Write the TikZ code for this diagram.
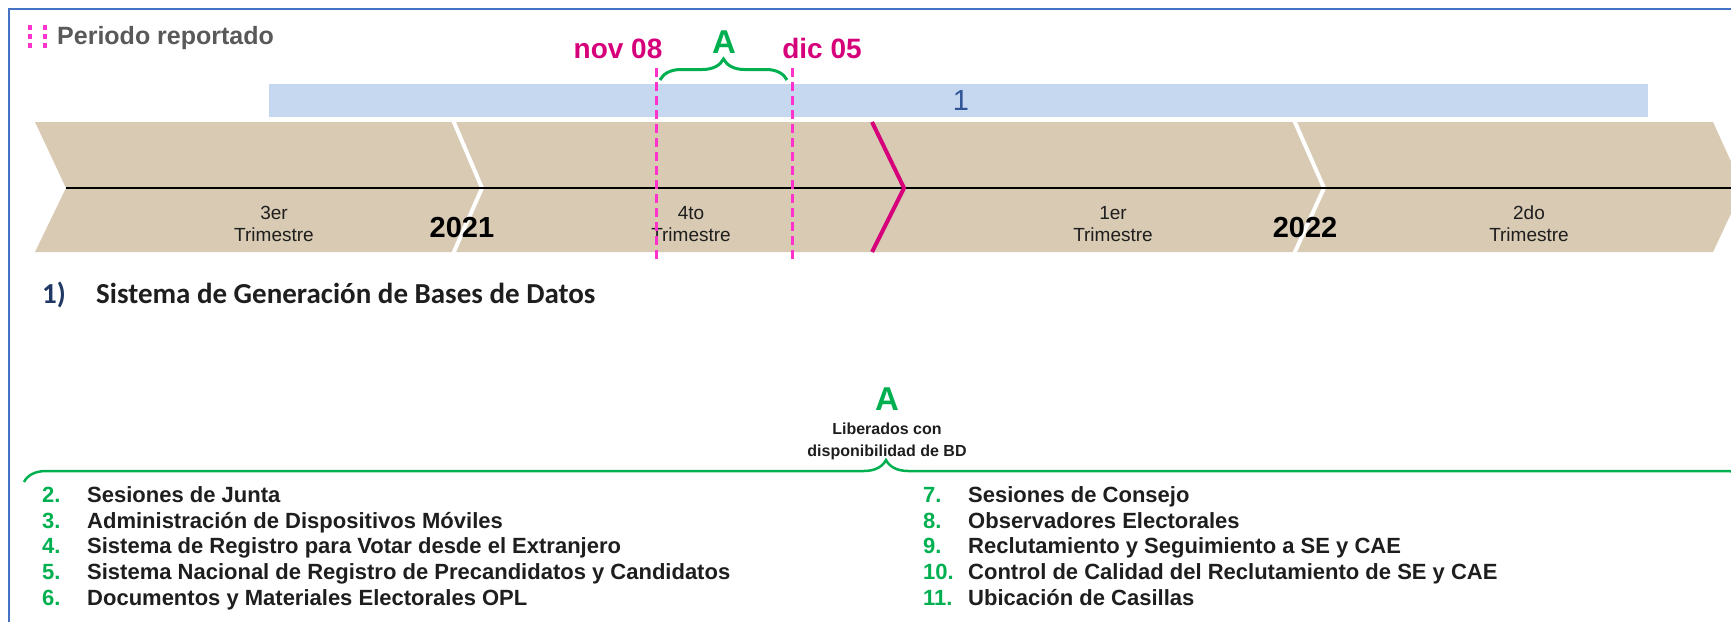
\documentclass[tikz,border=0pt]{standalone}
\usepackage{fontspec}
\setmainfont{Liberation Sans}
\newfontfamily\calibri{Carlito}
\usepackage{tikz}
\usetikzlibrary{
	positioning,   % relative placement
	calc,
	decorations.pathreplacing % braces
}
\definecolor{marco}{RGB}{68,114,196}
\definecolor{rosa}{RGB}{255,51,204}
\definecolor{magentaA}{RGB}{214,0,122}
\definecolor{verde}{RGB}{0,176,80}
\definecolor{barra}{RGB}{197,216,240}
\definecolor{azulno}{RGB}{47,85,151}
\definecolor{marino}{RGB}{31,56,100}
\definecolor{cafe}{RGB}{216,202,179}
\definecolor{grisT}{RGB}{89,89,89}
\definecolor{negroT}{RGB}{30,30,30}

\tikzstyle{llave}=[verde,
line width=3pt,
decorate,
decoration={brace, amplitude=21pt}]
\tikzset{
	every picture/.style={
		>=latex,
		node distance=5mm and 5mm
}}
\tikzset{
	trim/.style={align=center, inner sep=0pt, text=negroT, font=\fontsize{19}{22}\selectfont},
	anio/.style={inner sep=0pt, font=\bfseries\fontsize{29}{30}\selectfont},
	fecha/.style={anchor=base, inner sep=0pt, text=magentaA, font=\bfseries\fontsize{28}{30}\selectfont},
	letra/.style={anchor=base, inner sep=0pt, text=verde, font=\bfseries\fontsize{33}{34}\selectfont},
	lista/.style={anchor=base west, inner sep=0pt, text=negroT, font=\bfseries\fontsize{22}{24}\selectfont},
	titulo/.style={anchor=base west, inner sep=0pt, font=\calibri\bfseries\fontsize{29}{30}\selectfont},
	corte/.style={white, line width=4pt},
	guia/.style={rosa, line width=3pt, dash pattern=on 9pt off 5pt}
}
\newcommand{\numero}[1]{\makebox[45pt][l]{\textcolor{verde}{#1}}}

\begin{document}
\begin{tikzpicture}[x=1pt, y=-1pt]
	\useasboundingbox (0,0) rectangle (1731,621);
	\draw[marco, line width=2pt] (9,640) -- (9,9) -- (1750,9);
	% periodo reportado
	\foreach \px in {29.5,45} \foreach \py in {27,36,45}
		\fill[rosa] (\px-2,\py-2.5) rectangle (\px+2,\py+2.5);
	\node (periodo) at (57,44) [anchor=base west, inner sep=0pt, text=grisT, font=\bfseries\fontsize{25}{26}\selectfont] {Periodo reportado};
	% barra 1
	\fill[barra] (269,84) rectangle (1648,117);
	\node (uno) at (961,101) [text=azulno, font=\fontsize{29}{30}\selectfont] {1};
	% cinta de trimestres
	\fill[cafe] (35,122) -- (1713,122) -- (1743,188) -- (1713,252) -- (35,252) -- (66,188) -- cycle;
	\draw[corte] (453,120) -- (482,188) -- (453,254);
	\draw[corte] (1294,120) -- (1324,188) -- (1294,254);
	\draw[line width=2pt] (66,188) -- (1731,188);
	\draw[magentaA, line width=4pt] (872,122) -- (904,188) -- (872,252);
	\node (tri3) at (274,224) [trim] {3er\\Trimestre};
	\node (tri4) at (691,224) [trim] {4to\\Trimestre};
	\node (tri1) at (1113,224) [trim] {1er\\Trimestre};
	\node (tri2) at (1529,224) [trim] {2do\\Trimestre};
	\node (a2021) at (462,228) [anio] {2021};
	\node (a2022) at (1305,228) [anio] {2022};
	% fechas
	\node (nov) at (618,58) [fecha] {nov 08};
	\node (dic) at (822,58) [fecha] {dic 05};
	\coordinate (ini) at (656,68);
	\coordinate (fin) at (792,68);
	\draw[guia] (ini) -- ++(0,192);
	\draw[guia] (fin) -- ++(0,192);
	\draw[llave] (660,80) -- (787,80);
	\node (letraA) at (724,53) [letra] {A};
	% titulo
	\node (num1) at (42,303) [titulo, text=marino] {1)};
	\node (sistema) at (96,303) [titulo, text=negroT] {Sistema de Generación de Bases de Datos};
	% grupo A
	\draw[llave, line width=2.5pt, decoration={brace, amplitude=22pt}] (24,482) -- (1748,482);
	\node (letraB) at (887,410) [letra] {A};
	\node (liberados) [below=13pt of letraB, align=center, inner sep=0pt, text=negroT, font=\bfseries\fontsize{16}{21}\selectfont] {Liberados con\\disponibilidad de BD};
	\node (item002) at (42,502.5) [lista] {\numero{2.}Sesiones de Junta};
	\node (item003) at (42,528.2) [lista] {\numero{3.}Administración de Dispositivos Móviles};
	\node (item004) at (42,553.9) [lista] {\numero{4.}Sistema de Registro para Votar desde el Extranjero};
	\node (item005) at (42,579.6) [lista] {\numero{5.}Sistema Nacional de Registro de Precandidatos y Candidatos};
	\node (item006) at (42,605.2) [lista] {\numero{6.}Documentos y Materiales Electorales OPL};
	\node (item007) at (923,502.5) [lista] {\numero{7.}Sesiones de Consejo};
	\node (item008) at (923,528.2) [lista] {\numero{8.}Observadores Electorales};
	\node (item009) at (923,553.9) [lista] {\numero{9.}Reclutamiento y Seguimiento a SE y CAE};
	\node (item010) at (923,579.6) [lista] {\numero{10.}Control de Calidad del Reclutamiento de SE y CAE};
	\node (item011) at (923,605.2) [lista] {\numero{11.}Ubicación de Casillas};
\end{tikzpicture}
\end{document}
